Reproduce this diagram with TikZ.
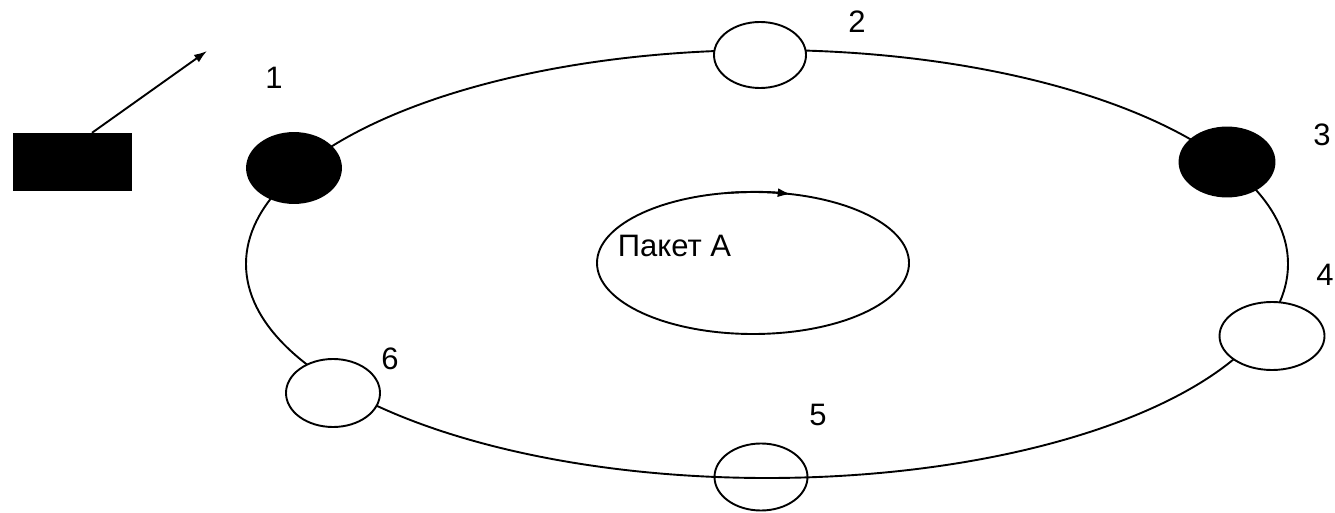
\documentclass[tikz,border=0pt]{standalone}
\usepackage{fontspec}
\setmainfont{Liberation Sans}
\usetikzlibrary{shapes.geometric,arrows.meta}
\tikzset{
  ln/.style={line width=1.9pt},
  station/.style={ln, draw, ellipse, inner sep=0pt},
  white station/.style={station, fill=white},
  black station/.style={station, fill=black},
  lbl/.style={inner sep=0pt, font=\fontsize{31}{36}\selectfont},
  tip/.style={-{Latex[length=13pt,width=9pt]}}
}
\begin{document}
\begin{tikzpicture}[x=1pt,y=1pt]
\useasboundingbox (0,0) rectangle (1335,512);
% main ring
\node[station, minimum width=1042pt, minimum height=428pt] (ring) at (767,248) {};
% stations
\node[black station, minimum width=94pt, minimum height=70pt] (n1) at (294,344) {};
\node[white station, minimum width=92pt, minimum height=66pt] (n2) at (760,457) {};
\node[black station, minimum width=95pt, minimum height=69pt] (n3) at (1227,350) {};
\node[white station, minimum width=105pt, minimum height=68pt] (n4) at (1272,176) {};
\node[station, minimum width=93pt, minimum height=67pt] (n5) at (761,35) {};
\node[white station, minimum width=94pt, minimum height=68pt] (n6) at (333,119) {};
% labels
\node[lbl] (l1) at (274,434) {1};
\node[lbl] (l2) at (857,490) {2};
\node[lbl] (l3) at (1322,377) {3};
\node[lbl] (l4) at (1325,237) {4};
\node[lbl] (l5) at (818,97) {5};
\node[lbl] (l6) at (390,153) {6};
% inner loop
\node[station, minimum width=312pt, minimum height=142pt] (loop) at (753,249) {};
\node[lbl] (pkt) at (674.5,266.5) {Пакет А};
\coordinate (arcstart) at (725.9,318.9);
\draw[ln, tip] (arcstart) arc[start angle=100, end angle=76, x radius=156, y radius=71];
% black box with arrow
\node[fill=black, minimum width=119pt, minimum height=58pt, inner sep=0pt] (box) at (72.5,350) {};
\coordinate (arrowend) at (207,461);
\draw[ln, tip] ([xshift=19.5pt]box.north) -- (arrowend);
\end{tikzpicture}
\end{document}
